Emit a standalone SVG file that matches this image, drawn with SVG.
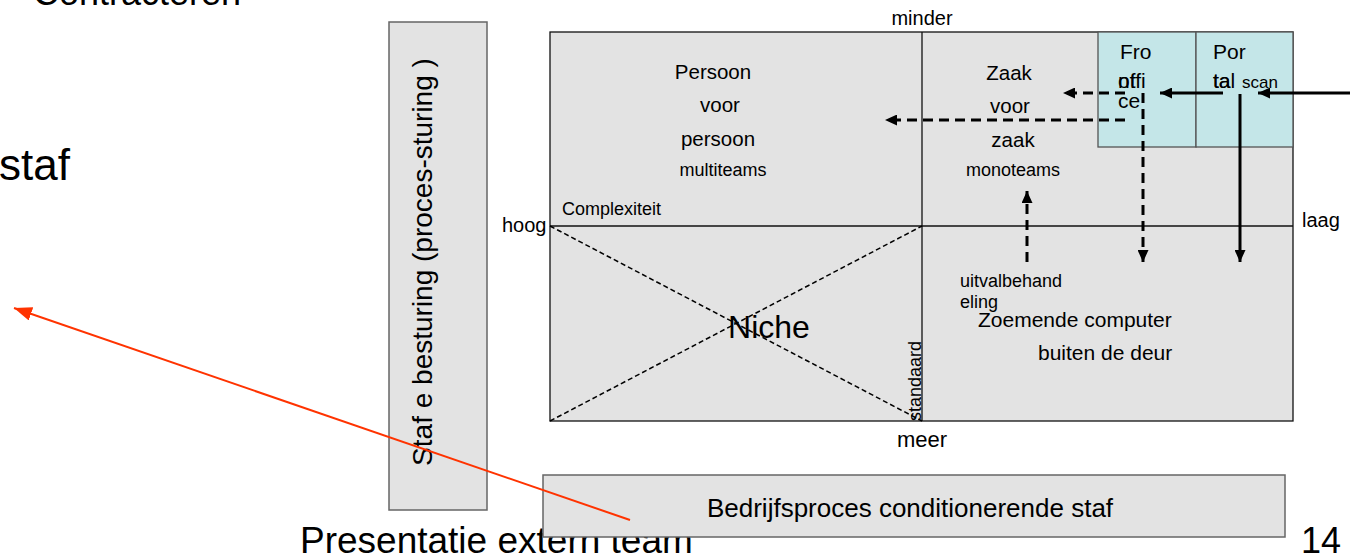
<svg xmlns="http://www.w3.org/2000/svg" width="1354" height="555" viewBox="0 0 1354 555">
<style>
text{font-family:"Liberation Sans",Arial,sans-serif;fill:#000}
.box{fill:#e3e3e3;stroke:#666;stroke-width:1.5}
.cyan{fill:#c4e6e8;stroke:#555;stroke-width:1.3}
.div{stroke:#111;stroke-width:1.3;fill:none}
.solid{stroke:#000;stroke-width:3;fill:none}
.dash{stroke:#000;stroke-width:3;fill:none;stroke-dasharray:10 6}
.x{stroke:#000;stroke-width:1.5;fill:none;stroke-dasharray:5 3}
.red{stroke:#ff3300;stroke-width:2;fill:none}
</style>
<defs>
<marker id="ah" markerUnits="userSpaceOnUse" markerWidth="12" markerHeight="11" refX="12" refY="5.5" orient="auto"><path d="M0,0 L12,5.5 L0,11 z" fill="#000"/></marker>
<marker id="ahr" markerUnits="userSpaceOnUse" markerWidth="18" markerHeight="14" refX="18" refY="7" orient="auto"><path d="M0,0 L18,7 L0,14 z" fill="#ff3300"/></marker>
</defs>

<g id="slide-text">
<text x="33" y="5" font-size="36">Contracteren</text>
<text x="-1" y="180" font-size="44">staf</text>
<text x="300" y="553" font-size="37">Presentatie extern team</text>
<text x="1301" y="553" font-size="36">14</text>
</g>

<g id="staf-besturing">
<rect class="box" x="389" y="22" width="98" height="488"/>
<text transform="translate(432,262) rotate(-90)" text-anchor="middle" font-size="28">Staf e besturing (proces-sturing )</text>
</g>

<g id="bedrijfsproces">
<rect class="box" x="543" y="475" width="742" height="62"/>
<text x="910" y="517" text-anchor="middle" font-size="26">Bedrijfsproces conditionerende staf</text>
</g>

<g id="matrix">
<rect x="550" y="32" width="743" height="389" fill="#e3e3e3" stroke="#111" stroke-width="1.3"/>
<line class="div" x1="922" y1="32" x2="922" y2="421"/>
<line class="div" x1="550" y1="226" x2="1293" y2="226"/>
<text x="922" y="25" text-anchor="middle" font-size="20">minder</text>
<text x="922" y="447" text-anchor="middle" font-size="22">meer</text>
<text x="502" y="232" font-size="20">hoog</text>
<text x="1302" y="227" font-size="20">laag</text>
<text x="562" y="215" font-size="18">Complexiteit</text>
<text transform="translate(921,421) rotate(-90)" font-size="18">standaard</text>
</g>

<g id="persoon-voor-persoon">
<text x="713" y="79" text-anchor="middle" font-size="20.5">Persoon</text>
<text x="720" y="112" text-anchor="middle" font-size="20.5">voor</text>
<text x="718" y="146" text-anchor="middle" font-size="20.5">persoon</text>
<text x="723" y="176" text-anchor="middle" font-size="18">multiteams</text>
</g>

<g id="zaak-voor-zaak">
<text x="1009" y="80" text-anchor="middle" font-size="20.5">Zaak</text>
<text x="1010" y="113" text-anchor="middle" font-size="20.5">voor</text>
<text x="1013" y="147" text-anchor="middle" font-size="20.5">zaak</text>
<text x="1013" y="176" text-anchor="middle" font-size="18">monoteams</text>
</g>

<g id="niche">
<text x="769" y="338" text-anchor="middle" font-size="32">Niche</text>
</g>

<g id="zoemende-computer">
<text x="960" y="287" font-size="18">uitvalbehand</text>
<text x="960" y="308" font-size="18">eling</text>
<text x="978" y="327" font-size="21">Zoemende computer</text>
<text x="1038" y="360" font-size="21">buiten de deur</text>
</g>

<g id="front-office">
<rect class="cyan" x="1098" y="32" width="98" height="115"/>
<text x="1120" y="59" font-size="21">Fro</text>
<text x="1118" y="88" font-size="21">nt</text>
<text x="1118" y="88" font-size="21">offi</text>
<text x="1118" y="108" font-size="21">ce</text>
</g>

<g id="portal">
<rect class="cyan" x="1196" y="32" width="97" height="115"/>
<text x="1213" y="59" font-size="21">Por</text>
<text x="1213" y="88" font-size="21">ta</text>
<text x="1213" y="88" font-size="21">tal</text>
<text x="1242" y="88" font-size="17">scan</text>
</g>

<g id="connectors">
<line class="x" x1="550" y1="226" x2="922" y2="421"/>
<line class="x" x1="550" y1="421" x2="922" y2="226"/>
<line class="solid" x1="1350" y1="93" x2="1258" y2="93" marker-end="url(#ah)"/>
<line class="solid" x1="1223" y1="93" x2="1160" y2="93" marker-end="url(#ah)"/>
<line class="solid" x1="1240" y1="94" x2="1240" y2="262" marker-end="url(#ah)"/>
<line class="dash" x1="1125" y1="93" x2="1063" y2="93" marker-end="url(#ah)"/>
<line class="dash" x1="1125" y1="120" x2="885" y2="120" marker-end="url(#ah)"/>
<line class="dash" x1="1143" y1="93" x2="1143" y2="262" marker-end="url(#ah)"/>
<line class="dash" x1="1027" y1="262" x2="1027" y2="191" marker-end="url(#ah)"/>
<line class="red" x1="630" y1="520" x2="14" y2="308" marker-end="url(#ahr)"/>
</g>
</svg>
